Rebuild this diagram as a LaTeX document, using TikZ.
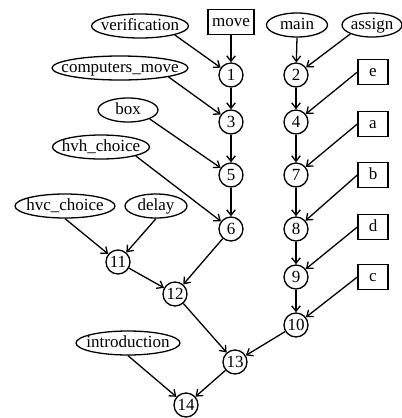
\documentclass[tikz,border=0pt]{standalone}
\usepackage{fontspec}
\setmainfont{Liberation Serif}
\usetikzlibrary{shapes.geometric,arrows.meta}

\begin{document}
\begin{tikzpicture}[x=1bp,y=-1bp,line width=1.3bp,
  >={Straight Barb[length=5.5bp,width=8.5bp]},
  every node/.style={font=\fontsize{17bp}{20bp}\selectfont,text height=11.5bp,text depth=3.5bp},
  fn/.style={draw,ellipse,inner sep=0pt,minimum height=24bp},
  src/.style={draw,rectangle,inner xsep=4bp,inner ysep=0pt,minimum width=30bp,minimum height=25bp},
  num/.style={draw,circle,inner sep=0pt,minimum size=24bp,text depth=0bp}]
\useasboundingbox (0,0) rectangle (402,418);
% sources
\node[fn,minimum width=97bp] (verif) at (140,26) {\makebox[0pt]{verification}};
\node[src] (move) at (231,22) {move};
\node[fn,minimum width=61bp] (main) at (297,25) {\makebox[0pt]{main}};
\node[fn,minimum width=60bp] (assign) at (372,25) {\makebox[0pt]{assign}};
\node[fn,minimum width=136bp] (cmove) at (120,68) {\makebox[0pt]{computers\_move}};
\node[src] (e) at (373,72) {e};
\node[fn,minimum width=60bp] (box) at (128,110) {\makebox[0pt]{box}};
\node[src] (a) at (373,124) {a};
\node[fn,minimum width=97bp] (hvh) at (101,147) {\makebox[0pt]{hvh\_choice}};
\node[src] (b) at (373,175) {b};
\node[fn,minimum width=100bp] (hvc) at (65,206) {\makebox[0pt]{hvc\_choice}};
\node[fn,minimum width=62bp] (delay) at (156,206) {\makebox[0pt]{delay}};
\node[src] (d) at (373,227) {d};
\node[src] (c) at (373,277) {c};
\node[fn,minimum width=104bp] (intro) at (128,343) {\makebox[0pt]{introduction}};
% numbered steps
\node[num] (n1) at (231,75) {1};
\node[num] (n2) at (296,75) {2};
\node[num] (n3) at (231,122) {3};
\node[num] (n4) at (296,122) {4};
\node[num] (n5) at (231,175) {5};
\node[num] (n7) at (296,175) {7};
\node[num] (n6) at (231,229) {6};
\node[num] (n8) at (296,229) {8};
\node[num] (n9) at (296,277) {9};
\node[num] (n10) at (296,325) {10};
\node[num] (n11) at (118,262) {11};
\node[num] (n12) at (175,294) {12};
\node[num] (n13) at (235,362) {13};
\node[num] (n14) at (186,405) {14};
% edges
\draw[->] (verif.south east) -- (n1); \draw[->] (move.south) -- (n1);
\draw[->] (main.south) -- (n2); \draw[->] (assign.south west) -- (n2);
\draw[->] (cmove.south east) -- (n3); \draw[->] (n1) -- (n3);
\draw[->] (n2) -- (n4); \draw[->] (e.west) -- (n4);
\draw[->] (box.south east) -- (n5); \draw[->] (n3) -- (n5);
\draw[->] (n4) -- (n7); \draw[->] (a.west) -- (n7);
\draw[->] (hvh.south east) -- (n6); \draw[->] (n5) -- (n6);
\draw[->] (n7) -- (n8); \draw[->] (b.west) -- (n8);
\draw[->] (n8) -- (n9); \draw[->] (d.west) -- (n9);
\draw[->] (n9) -- (n10); \draw[->] (c.west) -- (n10);
\draw[->] (hvc.south) -- (n11); \draw[->] (delay.south) -- (n11);
\draw[->] (n11) -- (n12); \draw[->] (n6) -- (n12);
\draw[->] (n12) -- (n13); \draw[->] (n10) -- (n13);
\draw[->] (intro.south) -- (n14); \draw[->] (n13) -- (n14);
\end{tikzpicture}
\end{document}
